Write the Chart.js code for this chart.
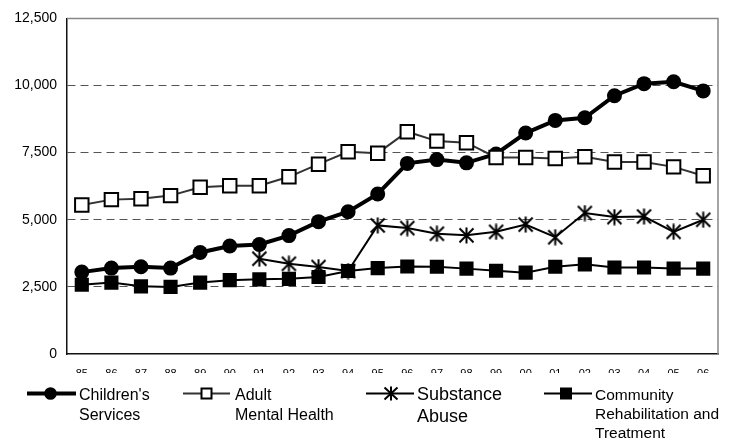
<!DOCTYPE html>
<html>
<head>
<meta charset="utf-8">
<script src="https://cdn.jsdelivr.net/npm/chart.js@4.4.0/dist/chart.umd.min.js"></script>
<style>
  html, body { margin: 0; padding: 0; background: #fff; }
  #wrap { position: relative; width: 734px; height: 442px; overflow: hidden; font-family: "Liberation Sans", Arial, sans-serif; color: #000; }
  #c { position: absolute; left: 0; top: 0; }
  #leg { position: absolute; left: 0; top: 0; width: 734px; height: 442px; pointer-events: none; }
  .lt { position: absolute; font-size: 16px; line-height: 20px; white-space: nowrap; }
</style>
</head>
<body>
<div id="wrap">
  <canvas id="c" width="734" height="373"></canvas>
  <svg id="leg" width="734" height="442" xmlns="http://www.w3.org/2000/svg">
    <line x1="27" y1="393.5" x2="76" y2="393.5" stroke="#000" stroke-width="4"/>
    <circle cx="50.5" cy="393.5" r="6.3" fill="#000"/>
    <line x1="183" y1="393.5" x2="230" y2="393.5" stroke="#333" stroke-width="2"/>
    <rect x="201.5" y="388.5" width="10" height="10" fill="#fff" stroke="#000" stroke-width="2"/>
    <line x1="366" y1="393.5" x2="414" y2="393.5" stroke="#000" stroke-width="2"/>
    <path d="M391 386.5 L391 400.5 M384.5 387.5 L397.5 399.5 M397.5 387.5 L384.5 399.5" stroke="#000" stroke-width="2" fill="none"/>
    <line x1="544" y1="393.5" x2="592" y2="393.5" stroke="#000" stroke-width="2"/>
    <rect x="560" y="387.5" width="12" height="12" fill="#000"/>
  </svg>
  <div class="lt" style="left:79px; top:385px;">Children's<br>Services</div>
  <div class="lt" style="left:235px; top:385px;">Adult<br>Mental Health</div>
  <div class="lt" style="left:417px; top:383px; font-size:18px; line-height:22px;">Substance<br>Abuse</div>
  <div class="lt" style="left:595px; top:385px; font-size:15.5px; line-height:19px;">Community<br>Rehabilitation and<br>Treatment</div>
</div>
<script>
const years = ['85','86','87','88','89','90','91','92','93','94','95','96','97','98','99','00','01','02','03','04','05','06'];
const childrensServices = [3050, 3200, 3250, 3200, 3780, 4020, 4080, 4410, 4930, 5300, 5960, 7100, 7240, 7120, 7450, 8230, 8700, 8800, 9620, 10070, 10140, 9800];
const adultMentalHealth = [5550, 5750, 5780, 5900, 6210, 6270, 6270, 6600, 7070, 7530, 7480, 8280, 7930, 7870, 7320, 7320, 7280, 7350, 7150, 7150, 6970, 6640];
const substanceAbuse = [null, null, null, null, null, null, 3550, 3360, 3240, 3090, 4790, 4690, 4480, 4420, 4550, 4820, 4350, 5250, 5100, 5120, 4550, 5000];
const communityRehab = [2580, 2660, 2520, 2500, 2660, 2750, 2780, 2800, 2870, 3090, 3200, 3260, 3250, 3180, 3100, 3030, 3250, 3340, 3220, 3220, 3180, 3180];
const yTicks = [0, 2500, 5000, 7500, 10000, 12500];

// asterisk marker
const star = document.createElement('canvas');
star.width = 17; star.height = 17;
(function(){
  const g = star.getContext('2d');
  g.strokeStyle = '#000'; g.lineWidth = 2;
  g.beginPath();
  g.moveTo(8.5, 0.5); g.lineTo(8.5, 16.5);
  g.moveTo(1.5, 1.5); g.lineTo(15.5, 15.5);
  g.moveTo(15.5, 1.5); g.lineTo(1.5, 15.5);
  g.stroke();
})();

const frame = {
  id: 'frame',
  afterDraw(chart) {
    const a = chart.chartArea, ctx = chart.ctx;
    ctx.save();
    ctx.strokeStyle = '#888';
    ctx.lineWidth = 1.5;
    ctx.beginPath();
    ctx.moveTo(a.left, a.top); ctx.lineTo(a.right, a.top); ctx.lineTo(a.right, a.bottom);
    ctx.stroke();
    ctx.restore();
  }
};

new Chart(document.getElementById('c'), {
  type: 'line',
  data: {
    labels: years,
    datasets: [
      { label: "Adult Mental Health", data: adultMentalHealth, order: 0,
        borderColor: '#333', borderWidth: 2, pointStyle: 'rect', pointRadius: 9.5,
        pointBackgroundColor: '#fff', pointBorderColor: '#000', pointBorderWidth: 2, tension: 0 },
      { label: "Children's Services", data: childrensServices, order: 1,
        borderColor: '#000', borderWidth: 4, pointStyle: 'circle', pointRadius: 7.5,
        pointBackgroundColor: '#000', pointBorderColor: '#000', pointBorderWidth: 0, tension: 0 },
      { label: "Community Rehabilitation and Treatment", data: communityRehab, order: 2,
        borderColor: '#000', borderWidth: 2, pointStyle: 'rect', pointRadius: 10,
        pointBackgroundColor: '#000', pointBorderColor: '#000', pointBorderWidth: 0, tension: 0 },
      { label: "Substance Abuse", data: substanceAbuse, order: 3,
        borderColor: '#000', borderWidth: 2, pointStyle: star, pointRadius: 8,
        tension: 0, spanGaps: false }
    ]
  },
  options: {
    responsive: false,
    animation: false,
    layout: { padding: { top: 17, right: 16, left: 0, bottom: 0 } },
    plugins: { legend: { display: false }, tooltip: { enabled: false } },
    scales: {
      x: {
        type: 'category', offset: true,
        grid: { display: false, drawTicks: false },
        border: { display: true, color: '#111', width: 1.5 },
        ticks: { color: '#000', font: { family: 'Liberation Sans', size: 11 }, padding: 13, maxRotation: 0, autoSkip: false },
        afterFit(s) { s.height = 19; }
      },
      y: {
        min: 0, max: 12500,
        afterBuildTicks(s) { s.ticks = yTicks.map(v => ({ value: v })); },
        grid: { drawTicks: false, lineWidth: 1,
          color: c => (c.tick && (c.tick.value === 0 || c.tick.value === 12500)) ? 'rgba(0,0,0,0)' : '#555' },
        border: { display: true, color: '#111', width: 1.5, dash: [8, 5] },
        ticks: { color: '#000', font: { family: 'Liberation Sans', size: 14 }, padding: 10,
          callback: v => Number(v).toLocaleString('en-US') },
        afterFit(s) { s.width = 67; }
      }
    }
  },
  plugins: [frame]
});
</script>
</body>
</html>
